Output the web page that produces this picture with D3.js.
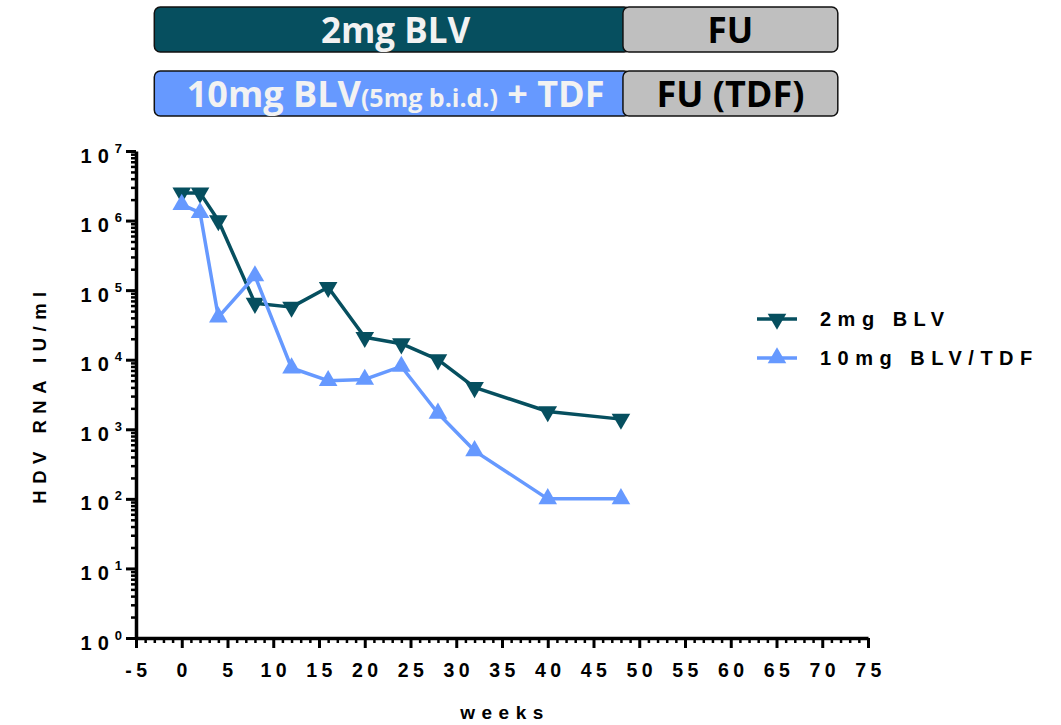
<!DOCTYPE html>
<html>
<head>
<meta charset="utf-8">
<script src="https://cdn.jsdelivr.net/npm/d3@7"></script>
<style>
  body { margin: 0; background: #fff; }
  svg text { font-family: "Liberation Sans", Arial, sans-serif; font-weight: bold; }
  svg text.bar-label { font-family: "Open Sans", "Liberation Sans", sans-serif; }
</style>
</head>
<body>
<svg id="chart" width="1061" height="725"></svg>
<script>
// weeks of sampling
const weeks = [0, 2, 4, 8, 12, 16, 20, 24, 28, 32, 40, 48];
// median HDV RNA (IU/ml)
const blv2 = [2.5e6, 2.5e6, 1.0e6, 6.5e4, 5.7e4, 1.1e5, 2.1e4, 1.7e4, 1.0e4, 4.0e3, 1.8e3, 1.4e3];
const blv10 = [1.7e6, 1.3e6, 4.1e4, 1.6e5, 7.6e3, 5.0e3, 5.2e3, 8.0e3, 1.7e3, 4.9e2, 100, 100];

const seriesNames = ['2mg BLV', '10mg BLV/TDF'];
const seriesColors = ['#064f5f', '#6699ff'];

// treatment phase bars above the plot (weeks)
const phaseStart = -3, phaseSwitch = 48, phaseEnd = 71.7;
const xTicks = d3.range(-5, 76, 5);
const yExponents = d3.range(0, 8);

const svg = d3.select('#chart');

const x = d3.scaleLinear().domain([-5, 75]).range([136, 868]);
const y = d3.scaleLog().domain([1, 1e7]).range([638, 151]);

// ---- phase bars ----
const bars = svg.append('g');
function phaseRow(top, fill, labelParts, fuLabel, fuSize) {
    const h = 45;
    bars.append('rect')
        .attr('x', x(phaseStart)).attr('y', top)
        .attr('width', x(phaseSwitch + 1) - x(phaseStart)).attr('height', h)
        .attr('rx', 6).attr('fill', fill)
        .attr('stroke', '#111').attr('stroke-width', 1.5);
    bars.append('rect')
        .attr('x', x(phaseSwitch) + 2).attr('y', top)
        .attr('width', x(phaseEnd) - x(phaseSwitch) - 2).attr('height', h)
        .attr('rx', 6).attr('fill', '#bfbfbf')
        .attr('stroke', '#111').attr('stroke-width', 1.5);

    const t = bars.append('text').attr('class', 'bar-label')
        .attr('x', (x(phaseStart) + x(phaseSwitch)) / 2 + 8)
        .attr('y', top + 36)
        .attr('text-anchor', 'middle')
        .attr('fill', '#f2f2f2');
    labelParts.forEach(p => t.append('tspan').attr('font-size', p.size).text(p.text));

    bars.append('text').attr('class', 'bar-label')
        .attr('x', (x(phaseSwitch) + x(phaseEnd)) / 2 + 1)
        .attr('y', top + 36)
        .attr('text-anchor', 'middle')
        .attr('font-size', fuSize)
        .attr('fill', '#000')
        .text(fuLabel);
}
phaseRow(7, seriesColors[0], [{ text: '2mg BLV', size: 35 }], 'FU', 35);
phaseRow(71, seriesColors[1], [
    { text: '10mg BLV', size: 36 },
    { text: '(5mg b.i.d.)', size: 25 },
    { text: ' + TDF', size: 36 }
], 'FU (TDF)', 36);

// ---- axes ----
const xMinor = d3.range(-5, 76, 1).filter(d => d % 5 !== 0);
const gx = svg.append('g').attr('transform', `translate(0,${y(1)})`);
gx.call(d3.axisBottom(x).tickValues(xMinor).tickSize(5).tickFormat(''))
    .call(g => g.select('.domain').remove())
    .call(g => g.selectAll('.tick line').attr('stroke-width', 2.5));
gx.append('g').call(d3.axisBottom(x).tickValues(xTicks).tickSize(10).tickSizeOuter(0)
        .tickPadding(15).tickFormat(d => String(d)))
    .call(g => g.select('.domain').attr('stroke-width', 3.5))
    .call(g => g.selectAll('.tick line').attr('stroke-width', 3))
    .call(g => g.selectAll('.tick text')
        .attr('font-size', 19.5).attr('fill', '#000')
        .style('letter-spacing', '4.5px').attr('dx', 2));

const yMinor = [];
yExponents.slice(0, -1).forEach(k => d3.range(2, 10).forEach(m => yMinor.push(m * 10 ** k)));
const gy = svg.append('g').attr('transform', `translate(${x(-5)},0)`);
gy.call(d3.axisLeft(y).tickValues(yMinor).tickSize(5).tickFormat(''))
    .call(g => g.select('.domain').remove())
    .call(g => g.selectAll('.tick line').attr('stroke-width', 2.5));
gy.append('g').call(d3.axisLeft(y).tickValues(yExponents.map(k => 10 ** k)).tickSize(10).tickSizeOuter(0))
    .call(g => g.select('.domain').attr('stroke-width', 3.5))
    .call(g => g.selectAll('.tick line').attr('stroke-width', 3))
    .call(g => g.selectAll('.tick text').each(function (d) {
        const t = d3.select(this).text('')
            .attr('x', -14).attr('dy', 11)
            .attr('font-size', 20).attr('fill', '#000');
        t.append('tspan').style('letter-spacing', '6px').text('10');
        t.append('tspan').attr('font-size', 13).attr('dy', -10).text(Math.round(Math.log10(d)));
    }));

// axis titles
svg.append('text')
    .attr('x', (x(-5) + x(75)) / 2 + 3).attr('y', 719)
    .attr('text-anchor', 'middle').attr('font-size', 19)
    .style('letter-spacing', '6.5px')
    .text('weeks');
svg.append('text')
    .attr('transform', `translate(46,${(y(1) + y(1e7)) / 2}) rotate(-90)`)
    .attr('text-anchor', 'middle').attr('font-size', 18.5)
    .style('letter-spacing', '6.5px')
    .text('HDV RNA IU/ml');

// ---- series ----
const series = [blv2, blv10].map((vals, i) => ({
    name: seriesNames[i],
    color: seriesColors[i],
    down: i === 0,
    pts: weeks.map((w, j) => ({ w, v: vals[j] }))
}));
const line = d3.line().x(d => x(d.w)).y(d => y(d.v));
const tri = d3.symbol(d3.symbolTriangle, 150);

series.forEach(s => {
    const g = svg.append('g');
    g.append('path').attr('d', line(s.pts))
        .attr('fill', 'none').attr('stroke', s.color)
        .attr('stroke-width', 3.5).attr('stroke-linejoin', 'round');
    g.selectAll('path.pt').data(s.pts).join('path').attr('class', 'pt')
        .attr('d', tri)
        .attr('transform', d => `translate(${x(d.w)},${y(d.v)})${s.down ? ' rotate(180)' : ''}`)
        .attr('fill', s.color);
});

// ---- legend ----
const legend = svg.append('g').attr('transform', 'translate(757,319)');
series.forEach((s, i) => {
    const row = legend.append('g').attr('transform', `translate(0,${i * 39})`);
    row.append('line').attr('x1', 0).attr('x2', 40)
        .attr('stroke', s.color).attr('stroke-width', 3.5);
    row.append('path').attr('d', tri)
        .attr('transform', `translate(20,0)${s.down ? ' rotate(180)' : ''}`)
        .attr('fill', s.color);
    row.append('text').attr('x', 63).attr('y', 7)
        .attr('font-size', 20).style('letter-spacing', '6.5px')
        .text(s.name);
});
</script>
</body>
</html>
